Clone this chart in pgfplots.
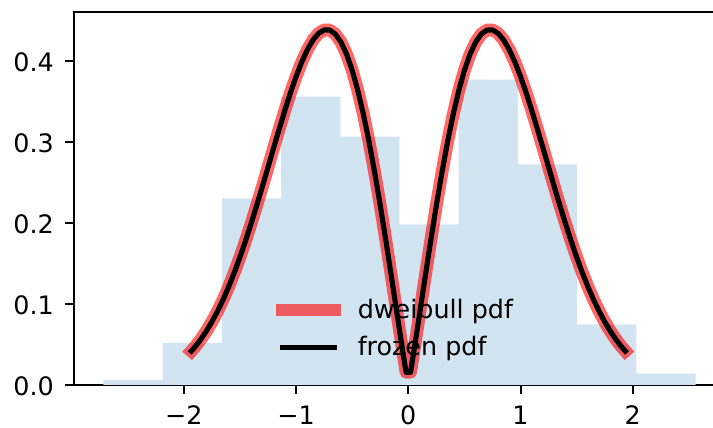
\documentclass[border=0pt]{standalone}
\usepackage{fontspec}
\setmainfont{DejaVu Sans}
\usepackage{pgfplots}
\pgfplotsset{compat=1.18}
\definecolor{histblue}{RGB}{210,228,240}
\begin{document}
\begin{tikzpicture}
\begin{axis}[
  at={(0,0)}, anchor=south west,
  scale only axis, width=325.8bp, height=186.5bp,
  xmin=-2.981, xmax=2.824, ymin=0, ymax=0.4605,
  xtick={-2,-1,0,1,2}, xticklabels={−2,−1,0,1,2},
  ytick={0,0.1,0.2,0.3,0.4}, yticklabels={0.0,0.1,0.2,0.3,0.4},
  tick pos=left, tick align=outside, major tick length=4.4bp,
  tick style={line width=1.02bp, black},
  axis line style={line width=1.02bp},
  ticklabel style={font=\fontsize{12.75}{15}\selectfont},
  xticklabel style={anchor=north, inner sep=0pt, yshift=-5.95bp},
  yticklabel style={anchor=east, inner sep=0pt, xshift=-5.3bp, yshift=-0.5bp},
  legend image code/.code={\draw[#1] (0bp,0bp) -- (26.1bp,0bp);},
  legend cell align=left,
  legend style={draw=none, fill=none, inner sep=0pt, outer sep=0pt,
    at={(rel axis cs:0.3109,0.2357)}, anchor=north west,
    column sep=8.25bp, row sep=5.95bp,
    font=\fontsize{12.75}{15}\selectfont,
    nodes={inner sep=0pt, text height=10.6bp, text depth=2.3bp}},
]
\addplot[ybar interval, fill=histblue, draw=none, forget plot] coordinates {
(-2.717,0.0062) (-2.189,0.0519) (-1.662,0.2305) (-1.134,0.3560)
(-0.606,0.3065) (-0.079,0.1984) (0.449,0.3769) (0.977,0.2725)
(1.504,0.0749) (2.032,0.0140) (2.560,0.0140)};
\addplot[red, opacity=0.6, line width=6.4bp, line cap=rect, line join=round] coordinates {
(-1.933,0.0419) (-1.9,0.0471) (-1.85,0.0561) (-1.8,0.0664) (-1.75,0.0780)
(-1.7,0.0910) (-1.65,0.1054) (-1.6,0.1214) (-1.55,0.1389) (-1.5,0.1578)
(-1.45,0.1780) (-1.4,0.1995) (-1.35,0.2219) (-1.3,0.2451) (-1.25,0.2688)
(-1.2,0.2926) (-1.15,0.3161) (-1.1,0.3390) (-1.05,0.3607) (-1.0,0.3808)
(-0.95,0.3986) (-0.9,0.4138) (-0.85,0.4258) (-0.8,0.4341) (-0.75,0.4384)
(-0.7,0.4382) (-0.65,0.4332) (-0.6,0.4233) (-0.55,0.4084) (-0.5,0.3885)
(-0.45,0.3637) (-0.4,0.3342) (-0.35,0.3004) (-0.3,0.2627) (-0.25,0.2219)
(-0.2,0.1784) (-0.15,0.1333) (-0.1,0.0873) (-0.05,0.0419) (-0.02,0.0157)
(0.02,0.0157) (0.05,0.0419) (0.1,0.0873) (0.15,0.1333) (0.2,0.1784)
(0.25,0.2219) (0.3,0.2627) (0.35,0.3004) (0.4,0.3342) (0.45,0.3637)
(0.5,0.3885) (0.55,0.4084) (0.6,0.4233) (0.65,0.4332) (0.7,0.4382)
(0.75,0.4384) (0.8,0.4341) (0.85,0.4258) (0.9,0.4138) (0.95,0.3986)
(1.0,0.3808) (1.05,0.3607) (1.1,0.3390) (1.15,0.3161) (1.2,0.2926)
(1.25,0.2688) (1.3,0.2451) (1.35,0.2219) (1.4,0.1995) (1.45,0.1780)
(1.5,0.1578) (1.55,0.1389) (1.6,0.1214) (1.65,0.1054) (1.7,0.0910)
(1.75,0.0780) (1.8,0.0664) (1.85,0.0561) (1.9,0.0471) (1.933,0.0419)};
\addlegendentry{dweibull pdf}
\addplot[black, line width=2.55bp, line cap=rect, line join=round] coordinates {
(-1.933,0.0419) (-1.9,0.0471) (-1.85,0.0561) (-1.8,0.0664) (-1.75,0.0780)
(-1.7,0.0910) (-1.65,0.1054) (-1.6,0.1214) (-1.55,0.1389) (-1.5,0.1578)
(-1.45,0.1780) (-1.4,0.1995) (-1.35,0.2219) (-1.3,0.2451) (-1.25,0.2688)
(-1.2,0.2926) (-1.15,0.3161) (-1.1,0.3390) (-1.05,0.3607) (-1.0,0.3808)
(-0.95,0.3986) (-0.9,0.4138) (-0.85,0.4258) (-0.8,0.4341) (-0.75,0.4384)
(-0.7,0.4382) (-0.65,0.4332) (-0.6,0.4233) (-0.55,0.4084) (-0.5,0.3885)
(-0.45,0.3637) (-0.4,0.3342) (-0.35,0.3004) (-0.3,0.2627) (-0.25,0.2219)
(-0.2,0.1784) (-0.15,0.1333) (-0.1,0.0873) (-0.05,0.0419) (-0.02,0.0157)
(0.02,0.0157) (0.05,0.0419) (0.1,0.0873) (0.15,0.1333) (0.2,0.1784)
(0.25,0.2219) (0.3,0.2627) (0.35,0.3004) (0.4,0.3342) (0.45,0.3637)
(0.5,0.3885) (0.55,0.4084) (0.6,0.4233) (0.65,0.4332) (0.7,0.4382)
(0.75,0.4384) (0.8,0.4341) (0.85,0.4258) (0.9,0.4138) (0.95,0.3986)
(1.0,0.3808) (1.05,0.3607) (1.1,0.3390) (1.15,0.3161) (1.2,0.2926)
(1.25,0.2688) (1.3,0.2451) (1.35,0.2219) (1.4,0.1995) (1.45,0.1780)
(1.5,0.1578) (1.55,0.1389) (1.6,0.1214) (1.65,0.1054) (1.7,0.0910)
(1.75,0.0780) (1.8,0.0664) (1.85,0.0561) (1.9,0.0471) (1.933,0.0419)};
\addlegendentry{frozen pdf}
\end{axis}
\pgfresetboundingbox
\path[use as bounding box] (-36.85bp,-21.5bp) rectangle (319.65bp,192.5bp);
\end{tikzpicture}
\end{document}
